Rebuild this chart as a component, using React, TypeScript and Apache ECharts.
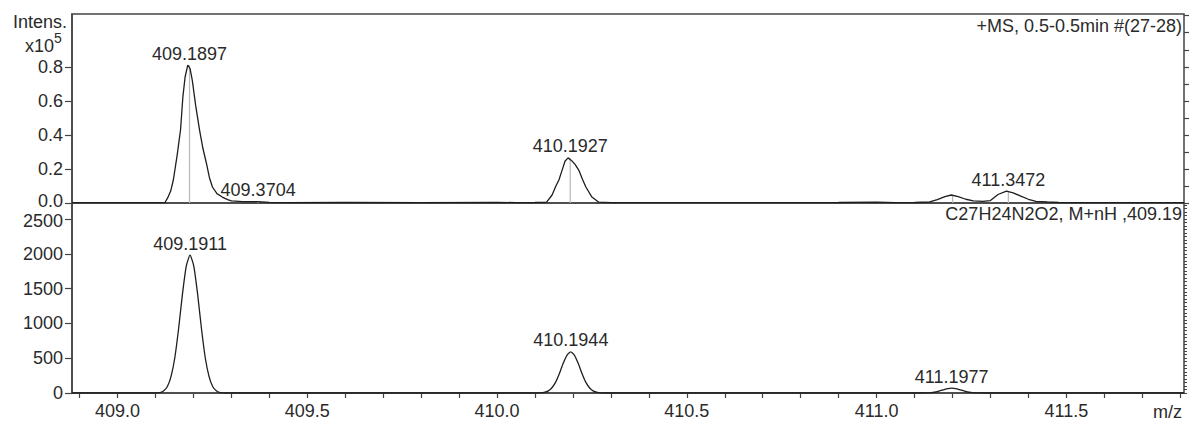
import React, { useEffect, useRef } from "react";
import * as echarts from "echarts";

// ---- data ----
const X_MIN = 408.88;
const X_MAX = 411.81;
const TOP_Y_MAX = 1.11; // x10^5
const BOTTOM_Y_MAX = 2730;

const xTickLabels = [409.0, 409.5, 410.0, 410.5, 411.0, 411.5];
const topYTickLabels = [0, 0.2, 0.4, 0.6, 0.8];
const bottomYTickLabels = [0, 500, 1000, 1500, 2000, 2500];

// measured profile spectrum (intensity x10^5)
const measuredProfile: [number, number][] = [
  [408.88, 0.002], [409.0, 0.002], [409.1, 0.002], [409.125, 0.003], [409.132, 0.03],
  [409.14, 0.07], [409.147, 0.135], [409.157, 0.28], [409.166, 0.43], [409.172, 0.62],
  [409.178, 0.74], [409.185, 0.81], [409.191, 0.79], [409.197, 0.72], [409.206, 0.57],
  [409.216, 0.43], [409.225, 0.32], [409.234, 0.235], [409.242, 0.15], [409.25, 0.094],
  [409.262, 0.055], [409.276, 0.035], [409.29, 0.02], [409.3, 0.012], [409.33, 0.008],
  [409.37, 0.008], [409.4, 0.004], [409.45, 0.002], [409.6, 0.003], [409.8, 0.002],
  [410.0, 0.004], [410.05, 0.002], [410.1, 0.003], [410.13, 0.004], [410.145, 0.047],
  [410.155, 0.1], [410.163, 0.135], [410.171, 0.19], [410.179, 0.245], [410.187, 0.265],
  [410.196, 0.25], [410.206, 0.225], [410.216, 0.19], [410.225, 0.14], [410.234, 0.094],
  [410.25, 0.035], [410.268, 0.005], [410.3, 0.002], [410.6, 0.002], [410.9, 0.003],
  [411.0, 0.005], [411.05, 0.002], [411.1, 0.003], [411.14, 0.006], [411.16, 0.02],
  [411.18, 0.038], [411.197, 0.047], [411.215, 0.038], [411.235, 0.022], [411.255, 0.012],
  [411.28, 0.01], [411.3, 0.014], [411.32, 0.05], [411.342, 0.07], [411.36, 0.06],
  [411.38, 0.04], [411.4, 0.022], [411.42, 0.01], [411.45, 0.006], [411.48, 0.003],
  [411.52, 0.002], [411.81, 0.002],
];

// simulated isotope pattern (C27H24N2O2, M+nH)
const simulatedProfile: [number, number][] = [
  [408.88, 0], [409.101, 0], [409.111, 5], [409.121, 30], [409.131, 90], [409.141, 240],
  [409.151, 510], [409.161, 930], [409.171, 1420], [409.181, 1820], [409.191, 1980],
  [409.201, 1820], [409.211, 1420], [409.221, 930], [409.231, 510], [409.241, 240],
  [409.251, 90], [409.261, 30], [409.271, 5], [409.281, 0],
  [410.104, 0], [410.114, 2], [410.124, 9], [410.134, 27], [410.144, 72], [410.154, 152],
  [410.164, 277], [410.174, 423], [410.184, 542], [410.194, 590], [410.204, 542],
  [410.214, 423], [410.224, 277], [410.234, 152], [410.244, 72], [410.254, 27],
  [410.264, 9], [410.274, 2], [410.284, 0],
  [411.118, 0], [411.128, 1], [411.138, 3], [411.148, 8], [411.158, 18], [411.168, 33],
  [411.178, 50], [411.188, 64], [411.198, 70], [411.208, 64], [411.218, 50], [411.228, 33],
  [411.238, 18], [411.248, 8], [411.258, 3], [411.268, 1], [411.278, 0], [411.81, 0],
];

const measuredPeakMz = [409.1897, 409.3704, 410.1927, 411.2003, 411.3472];
const measuredPeakInt = [0.81, 0.008, 0.265, 0.047, 0.07];
const measuredPeakLabeled = [true, true, true, false, true];

const simulatedPeakMz = [409.1911, 410.1944, 411.1977];
const simulatedPeakInt = [1980, 590, 70];

const topTitle = "+MS, 0.5-0.5min #(27-28)";
const bottomTitle = "C27H24N2O2, M+nH ,409.19";

// ---- style ----
const FONT = '"Liberation Sans", Arial, Helvetica, sans-serif';
const TEXT = "#2a2a2a";
const LINE = "#444";

function steps(from: number, to: number, step: number, digits: number): number[] {
  const out: number[] = [];
  const n = Math.round((to - from) / step);
  for (let i = 0; i <= n; i++) out.push(+(from + i * step).toFixed(digits));
  return out;
}

export default function App() {
  const ref = useRef<HTMLDivElement>(null);
  useEffect(() => {
    if (!ref.current) return;
    const chart = echarts.init(ref.current, undefined, { renderer: "svg" });

    const xMinor = steps(408.9, 411.8, 0.1, 1);
    const topMinor = steps(0, 1.1, 0.1, 1);
    const bottomMinor = steps(0, 2700, 50, 0);

    const labelStyle = { fontFamily: FONT, fontSize: 18, color: TEXT };
    const yLabelStyle = { ...labelStyle, lineHeight: 14 };
    const peakLabel = {
      show: true, position: "top", distance: 2, formatter: "{b}",
      fontFamily: FONT, fontSize: 18, color: TEXT, opacity: 1, textBorderWidth: 0,
    };

    const option: any = {
      animation: false,
      backgroundColor: "#fff",
      grid: [
        { left: 72, right: 6, top: 14, height: 189, show: true, borderColor: LINE, borderWidth: 1.5, backgroundColor: "transparent" },
        { left: 72, right: 6, top: 203, height: 190, show: true, borderColor: LINE, borderWidth: 1.5, backgroundColor: "transparent" },
      ],
      xAxis: [
        {
          gridIndex: 0, type: "value", min: X_MIN, max: X_MAX,
          axisLine: { show: false }, axisTick: { show: false }, axisLabel: { show: false }, splitLine: { show: false },
        },
        {
          gridIndex: 1, type: "value", min: X_MIN, max: X_MAX,
          axisLine: { show: true, lineStyle: { color: LINE, width: 1.5 } },
          axisTick: { show: true, customValues: xMinor, length: 5, lineStyle: { color: LINE, width: 1.2 } },
          axisLabel: { ...labelStyle, customValues: xTickLabels, formatter: (v: number) => v.toFixed(1), margin: 9 },
          splitLine: { show: false },
        },
      ],
      yAxis: [
        {
          gridIndex: 0, type: "value", min: 0, max: TOP_Y_MAX,
          axisLine: { show: true, lineStyle: { color: LINE, width: 1.5 } },
          axisTick: { show: true, customValues: topYTickLabels, length: 7, lineStyle: { color: LINE, width: 1.2 } },
          axisLabel: {
            ...yLabelStyle, customValues: topYTickLabels, margin: 9,
            formatter: (v: number) => (v === 0 ? "{up|0.0}" : v.toFixed(1)),
            rich: { up: { ...yLabelStyle, padding: [0, 0, 5, 0] } },
          },
          splitLine: { show: false },
        },
        {
          gridIndex: 0, type: "value", min: 0, max: TOP_Y_MAX,
          axisLine: { show: false },
          axisTick: { show: true, customValues: topMinor, length: 5, lineStyle: { color: LINE, width: 1.2 } },
          axisLabel: { show: false },
          splitLine: { show: false },
        },
        {
          gridIndex: 1, type: "value", min: 0, max: BOTTOM_Y_MAX,
          axisLine: { show: true, lineStyle: { color: LINE, width: 1.5 } },
          axisTick: { show: true, customValues: bottomYTickLabels, length: 7, lineStyle: { color: LINE, width: 1.2 } },
          axisLabel: {
            ...yLabelStyle, customValues: bottomYTickLabels, margin: 9,
            formatter: (v: number) => (v === 2500 ? "{down|2500}" : String(Math.round(v))),
            rich: { down: { ...yLabelStyle, padding: [4, 0, 0, 0] } },
          },
          splitLine: { show: false },
        },
        {
          gridIndex: 1, type: "value", min: 0, max: BOTTOM_Y_MAX,
          axisLine: { show: false },
          axisTick: { show: true, customValues: bottomMinor, length: 3, lineStyle: { color: LINE, width: 1 } },
          axisLabel: { show: false },
          splitLine: { show: false },
        },
      ],
      series: [
        {
          type: "custom",
          xAxisIndex: 0, yAxisIndex: 0,
          data: measuredPeakMz.map((m, i) => [m, measuredPeakInt[i]]),
          encode: { x: 0, y: 1 },
          z: 1,
          silent: true,
          renderItem: (params: any, api: any) => {
            const x = api.value(0);
            const y = api.value(1);
            const p0 = api.coord([x, 0]);
            const p1 = api.coord([x, y]);
            return {
              type: "line",
              shape: { x1: p0[0], y1: p0[1], x2: p1[0], y2: p1[1] },
              style: { stroke: "#b8b8b8", lineWidth: 1.2 },
            };
          },
        },
        {
          type: "line",
          xAxisIndex: 0, yAxisIndex: 0,
          data: measuredProfile,
          showSymbol: false,
          symbol: "none",
          lineStyle: { color: "#1e1e1e", width: 1.3 },
          z: 3,
        },
        {
          type: "line",
          xAxisIndex: 1, yAxisIndex: 2,
          data: simulatedProfile,
          showSymbol: false,
          symbol: "none",
          smooth: 0.2,
          lineStyle: { color: "#1e1e1e", width: 1.3 },
          z: 3,
        },
        {
          type: "scatter",
          xAxisIndex: 0, yAxisIndex: 0,
          symbolSize: 1,
          itemStyle: { color: "#ffffff", opacity: 1 },
          data: measuredPeakMz
            .map((m, i) => ({ value: [m, measuredPeakInt[i]], name: m.toFixed(4), show: measuredPeakLabeled[i] }))
            .filter((d) => d.show)
            .map((d) => ({ value: d.value, name: d.name })),
          label: peakLabel,
          z: 0,
        },
        {
          type: "scatter",
          xAxisIndex: 1, yAxisIndex: 2,
          symbolSize: 1,
          itemStyle: { color: "#ffffff", opacity: 1 },
          data: simulatedPeakMz.map((m, i) => ({ value: [m, simulatedPeakInt[i]], name: m.toFixed(4) })),
          label: peakLabel,
          z: 0,
        },
      ],
      graphic: [
        { type: "text", x: 1182, y: 26, z: 10, style: { text: topTitle, align: "right", verticalAlign: "middle", fontFamily: FONT, fontSize: 18, fill: TEXT } },
        { type: "text", x: 1182, y: 214, z: 10, style: { text: bottomTitle, align: "right", verticalAlign: "middle", fontFamily: FONT, fontSize: 18, fill: TEXT } },
        { type: "text", x: 67, y: 22, z: 10, style: { text: "Intens.", align: "right", verticalAlign: "middle", fontFamily: FONT, fontSize: 18, fill: TEXT } },
        { type: "text", x: 54, y: 46, z: 10, style: { text: "x10", align: "right", verticalAlign: "middle", fontFamily: FONT, fontSize: 18, fill: TEXT } },
        { type: "text", x: 54, y: 38, z: 10, style: { text: "5", align: "left", verticalAlign: "middle", fontFamily: FONT, fontSize: 14, fill: TEXT } },
        { type: "text", x: 1182, y: 412, z: 10, style: { text: "m/z", align: "right", verticalAlign: "middle", fontFamily: FONT, fontSize: 18, fill: TEXT } },
      ],
    };

    chart.setOption(option);
    return () => chart.dispose();
  }, []);

  return (
    <div
      ref={ref}
      style={{ position: "fixed", left: 0, top: 0, width: 1190, height: 421, background: "#fff" }}
    />
  );
}
